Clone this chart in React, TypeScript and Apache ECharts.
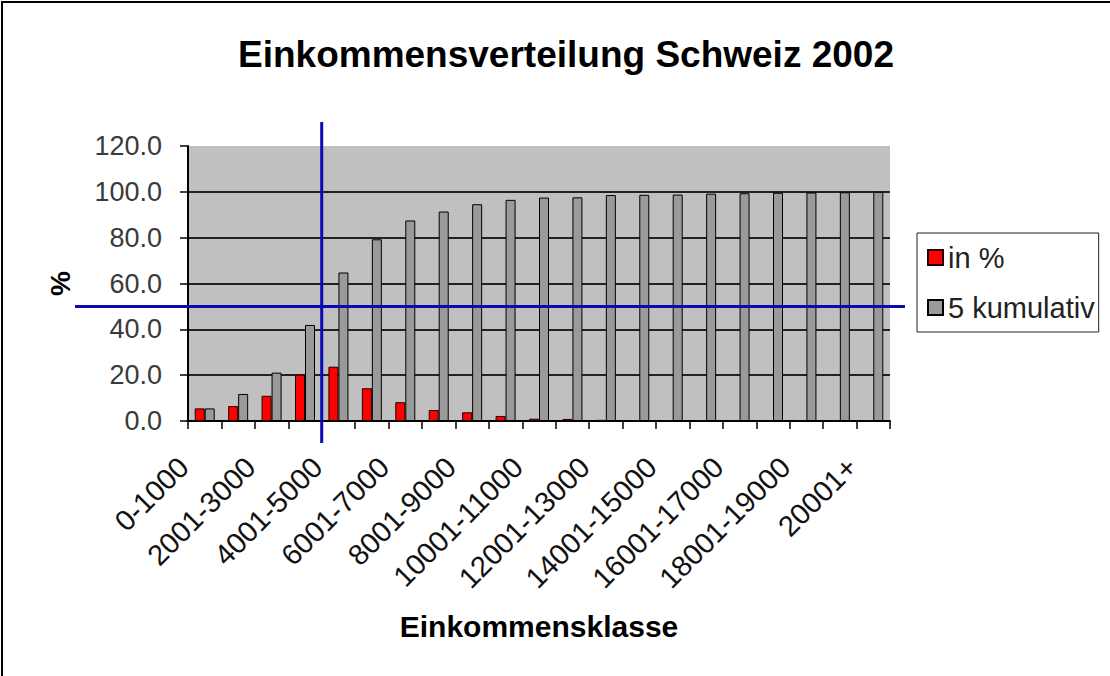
import React, { useEffect, useRef } from "react";
import * as echarts from "echarts";

const categories = [
  "0-1000", "1001-2000", "2001-3000", "3001-4000", "4001-5000", "5001-6000",
  "6001-7000", "7001-8000", "8001-9000", "9001-10000", "10001-11000", "11001-12000",
  "12001-13000", "13001-14000", "14001-15000", "15001-16000", "16001-17000",
  "17001-18000", "18001-19000", "19001-20000", "20001+",
];
const inPercent = [5.5, 6.5, 11.0, 20.2, 23.7, 14.3, 8.2, 4.8, 3.8, 2.2, 1.0, 0.9, 0.5, 0.3, 0.2, 0.3, 0.2, 0.2, 0.1, 0.1, 0.2];
const cumulative = [5.5, 11.8, 21.1, 41.9, 64.8, 79.3, 87.5, 91.4, 94.6, 96.5, 97.5, 97.6, 98.6, 98.7, 98.8, 99.2, 99.4, 99.6, 99.7, 99.8, 100.0];
const seriesNames = ["in %", "5 kumulativ"];
const yTicks = { min: 0, max: 120, interval: 20 };
const refValue = 50; // horizontal reference line (%)
const refBoundary = [3, 4]; // vertical reference between these category indices

const FONT = "'Liberation Sans', Arial, sans-serif";

export default function App() {
  const ref = useRef<HTMLDivElement>(null);
  useEffect(() => {
    if (!ref.current) return;
    const chart = echarts.init(ref.current, null, { renderer: "svg" });
    const gridLeft = 188, gridTop = 146, gridRight = 220, gridBottom = 255;
    chart.setOption({
      animation: false,
      backgroundColor: "#ffffff",
      title: {
        text: "Einkommensverteilung Schweiz 2002",
        left: 233,
        top: 31,
        textStyle: { fontFamily: FONT, fontSize: 37, fontWeight: "bold", color: "#000" },
      },
      legend: {
        orient: "vertical",
        left: 917,
        top: 233,
        padding: [10, 4, 10, 10],
        itemGap: 21,
        itemWidth: 15,
        itemHeight: 15,
        icon: "rect",
        borderColor: "#222",
        borderWidth: 1,
        textStyle: { fontFamily: FONT, fontSize: 29, color: "#222", padding: [0, 0, 0, 0] },
        data: seriesNames,
      },
      grid: {
        left: gridLeft, top: gridTop, right: gridRight, bottom: gridBottom,
        show: true, backgroundColor: "#c0c0c0", borderWidth: 0,
      },
      xAxis: {
        type: "category",
        data: categories,
        name: "Einkommensklasse",
        nameLocation: "middle",
        nameGap: 190,
        nameTextStyle: { fontFamily: FONT, fontSize: 30, fontWeight: "bold", color: "#000" },
        axisLine: { lineStyle: { color: "#000", width: 2 } },
        axisTick: { show: true, interval: 0, length: 8, lineStyle: { color: "#000", width: 1.5 } },
        axisLabel: {
          interval: 1, rotate: 45, margin: 20,
          padding: [0, 30, 0, 0],
          fontFamily: FONT, fontSize: 29, color: "#111",
        },
        splitLine: { show: false },
      },
      yAxis: {
        type: "value",
        min: yTicks.min, max: yTicks.max, interval: yTicks.interval,
        name: "%",
        nameLocation: "middle",
        nameGap: 114,
        nameRotate: 90,
        nameTextStyle: { fontFamily: FONT, fontSize: 28, fontWeight: "bold", color: "#000" },
        axisLine: { show: true, lineStyle: { color: "#000", width: 2 } },
        axisTick: { show: true, length: 8, lineStyle: { color: "#000", width: 1.5 } },
        axisLabel: {
          margin: 26, fontFamily: FONT, fontSize: 27, color: "#3a3a3a",
          formatter: (v: number) => v.toFixed(1),
        },
        splitLine: { show: true, showMaxLine: false, lineStyle: { color: "#222", width: 2 } },
      },
      series: [
        {
          name: seriesNames[0], type: "bar", data: inPercent,
          barWidth: 10, barGap: "0%",
          itemStyle: { color: "#ff0000", borderColor: "#200", borderWidth: 1 },
        },
        {
          name: seriesNames[1], type: "bar", data: cumulative,
          barWidth: 10, barGap: "0%",
          itemStyle: { color: "#9a9a9a", borderColor: "#000", borderWidth: 1 },
        },
      ],
    });

    const y50 = chart.convertToPixel({ yAxisIndex: 0 }, refValue) as number;
    const xa = chart.convertToPixel({ xAxisIndex: 0 }, categories[refBoundary[0]]) as number;
    const xb = chart.convertToPixel({ xAxisIndex: 0 }, categories[refBoundary[1]]) as number;
    const xv = (xa + xb) / 2;
    const yTop = chart.convertToPixel({ yAxisIndex: 0 }, yTicks.max) as number;
    const yBot = chart.convertToPixel({ yAxisIndex: 0 }, yTicks.min) as number;
    const width = chart.getWidth();
    const blue = "#0a0ab4";
    chart.setOption({
      graphic: [
        {
          type: "rect", z: 100, silent: true,
          shape: { x: 2, y: 2, width: 1130, height: 700 },
          style: { fill: "none", stroke: "#000", lineWidth: 2 },
        },
        {
          type: "line", z: 100, silent: true,
          shape: { x1: 75, y1: y50, x2: width - gridRight + 15, y2: y50 },
          style: { stroke: blue, lineWidth: 3 },
        },
        {
          type: "line", z: 100, silent: true,
          shape: { x1: xv, y1: yTop - 24, x2: xv, y2: yBot + 22 },
          style: { stroke: blue, lineWidth: 3 },
        },
      ],
    });
    return () => chart.dispose();
  }, []);
  return (
    <div
      ref={ref}
      style={{ position: "absolute", left: 0, top: 0, width: 1110, height: 676, background: "#fff" }}
    />
  );
}
